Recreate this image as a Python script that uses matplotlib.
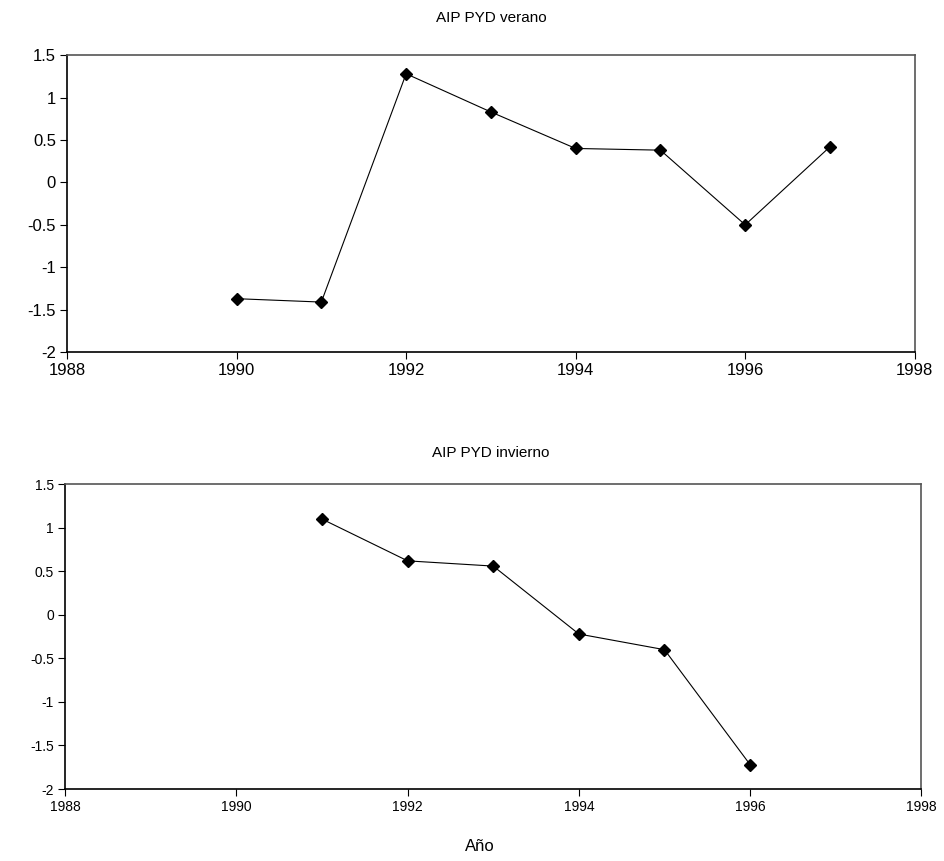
import numpy as np
import matplotlib
matplotlib.use("Agg")
import matplotlib.pyplot as plt

plt.rcParams['font.family'] = ['Liberation Sans', 'DejaVu Sans']

# data
years_verano = [1990, 1991, 1992, 1993, 1994, 1995, 1996, 1997]
aip_verano = [-1.37, -1.41, 1.28, 0.83, 0.40, 0.38, -0.50, 0.42]

years_invierno = [1991, 1992, 1993, 1994, 1995, 1996]
aip_invierno = [1.10, 0.62, 0.56, -0.22, -0.40, -1.72]

x_ticks = [1988, 1990, 1992, 1994, 1996, 1998]
y_ticks = [-2, -1.5, -1, -0.5, 0, 0.5, 1, 1.5]
y_labels = ["-2", "-1.5", "-1", "-0.5", "0", "0.5", "1", "1.5"]


def style_axes(ax, fs):
    ax.set_xlim(1988, 1998)
    ax.set_ylim(-2, 1.5)
    ax.set_xticks(x_ticks)
    ax.set_xticklabels([str(t) for t in x_ticks], fontsize=fs)
    ax.set_yticks(y_ticks)
    ax.set_yticklabels(y_labels, fontsize=fs)
    ax.tick_params(direction="out", length=5, width=0.8, pad=3)
    for s in ["top", "right"]:
        ax.spines[s].set_color("#555555")
        ax.spines[s].set_linewidth(1.2)
    for s in ["left", "bottom"]:
        ax.spines[s].set_color("black")
        ax.spines[s].set_linewidth(1.2)


fig = plt.figure(figsize=(9.44, 8.61), dpi=100)

ax1 = fig.add_axes([0.071, 0.591, 0.898, 0.345])
ax1.plot(years_verano, aip_verano, color="black", linewidth=0.8,
         marker="D", markersize=6, markerfacecolor="black")
style_axes(ax1, 12)
fig.text(0.52, 0.979, "AIP PYD verano", ha="center", va="center", fontsize=11)

ax2 = fig.add_axes([0.069, 0.0836, 0.907, 0.354])
ax2.plot(years_invierno, aip_invierno, color="black", linewidth=0.8,
         marker="D", markersize=6, markerfacecolor="black")
style_axes(ax2, 10)
fig.text(0.52, 0.474, "AIP PYD invierno", ha="center", va="center", fontsize=11)
fig.text(0.508, 0.017, "Año", ha="center", va="center", fontsize=12)

fig.savefig("out.png", dpi=100, facecolor="white")
